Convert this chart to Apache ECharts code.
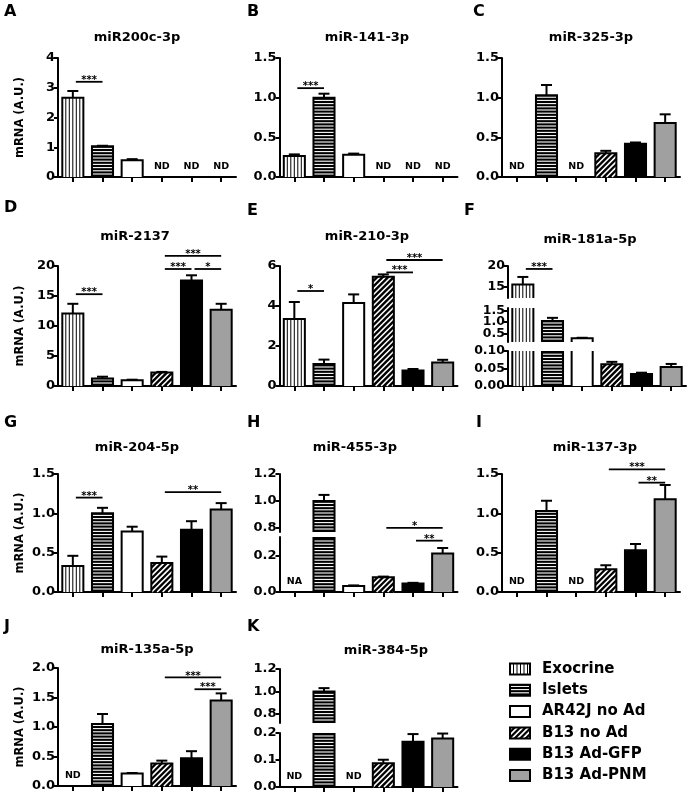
<!DOCTYPE html>
<html>
<head>
<meta charset="utf-8">
<script src="https://cdn.jsdelivr.net/npm/echarts@6/dist/echarts.min.js"></script>
<style>html,body{margin:0;padding:0;background:#fff}#c{width:690px;height:795px}</style>
</head>
<body>
<div id="c"></div>
<script>
// ---------------- DATA ----------------
const categories = ['Exocrine', 'Islets', 'AR42J no Ad', 'B13 no Ad', 'B13 Ad-GFP', 'B13 Ad-PNM'];

// A miR200c-3p
const miR200c_mean = [2.66, 1.03, 0.56, null, null, null];
const miR200c_err  = [0.23, 0.02, 0.04, 0, 0, 0];
const miR200c_notes = [[3, 'ND'], [4, 'ND'], [5, 'ND']];
const miR200c_sig = [[0, 1, 3.2, '***']];
const miR200c_ticks = [0, 1, 2, 3, 4];
// B miR-141-3p
const miR141_mean = [0.265, 1.0, 0.28, null, null, null];
const miR141_err  = [0.02, 0.05, 0.015, 0, 0, 0];
const miR141_notes = [[3, 'ND'], [4, 'ND'], [5, 'ND']];
const miR141_sig = [[0, 1, 1.12, '***']];
const miR141_ticks = [0, 0.5, 1.0, 1.5];
// C miR-325-3p
const miR325_mean = [null, 1.03, null, 0.30, 0.42, 0.68];
const miR325_err  = [0, 0.13, 0, 0.03, 0.015, 0.11];
const miR325_notes = [[0, 'ND'], [2, 'ND']];
const miR325_sig = [];
const miR325_ticks = [0, 0.5, 1.0, 1.5];
// D miR-2137
const miR2137_mean = [12.1, 1.25, 0.95, 2.25, 17.6, 12.7];
const miR2137_err  = [1.6, 0.3, 0.1, 0.1, 0.85, 1.0];
const miR2137_notes = [];
const miR2137_sig = [[0, 1, 15.3, '***'], [3, 4, 19.5, '***'], [4, 5, 19.5, '*'], [3, 5, 21.7, '***']];
const miR2137_ticks = [0, 5, 10, 15, 20];
// E miR-210-3p
const miR210_mean = [3.35, 1.1, 4.15, 5.46, 0.78, 1.17];
const miR210_err  = [0.85, 0.22, 0.43, 0.12, 0.07, 0.14];
const miR210_notes = [];
const miR210_sig = [[0, 1, 4.75, '*'], [3, 4, 5.68, '***'], [3, 5, 6.3, '***']];
const miR210_ticks = [0, 2, 4, 6];
// F miR-181a-5p (broken axis)
const miR181a_mean = [15.6, 1.05, 0.31, 0.062, 0.034, 0.054];
const miR181a_err  = [1.8, 0.13, 0.02, 0.007, 0.004, 0.009];
const miR181a_notes = [];
const miR181a_sig = [[0, 1, 19.3, '***']];
const miR181a_ticksTop = [15, 20];
const miR181a_ticksMid = [0.5, 1.0, 1.5];
const miR181a_ticksLow = [0, 0.05, 0.10];
// G miR-204-5p
const miR204_mean = [0.33, 1.0, 0.77, 0.37, 0.79, 1.05];
const miR204_err  = [0.13, 0.07, 0.06, 0.08, 0.11, 0.08];
const miR204_notes = [];
const miR204_sig = [[0, 1, 1.2, '***'], [3, 5, 1.27, '**']];
const miR204_ticks = [0, 0.5, 1.0, 1.5];
// H miR-455-3p (broken axis)
const miR455_mean = [null, 1.0, 0.033, 0.08, 0.047, 0.21];
const miR455_err  = [0, 0.045, 0.003, 0.004, 0.003, 0.03];
const miR455_notes = [[0, 'NA']];
const miR455_sig = [[3, 5, 0.35, '*'], [4, 5, 0.28, '**']];
const miR455_ticksTop = [0.8, 1.0, 1.2];
const miR455_ticksLow = [0, 0.2];
// I miR-137-3p
const miR137_mean = [null, 1.03, null, 0.29, 0.53, 1.18];
const miR137_err  = [0, 0.13, 0, 0.05, 0.08, 0.18];
const miR137_notes = [[0, 'ND'], [2, 'ND']];
const miR137_sig = [[3, 5, 1.56, '***'], [4, 5, 1.39, '**']];
const miR137_ticks = [0, 0.5, 1.0, 1.5];
// J miR-135a-5p
const miR135a_mean = [null, 1.05, 0.21, 0.38, 0.47, 1.45];
const miR135a_err  = [0, 0.17, 0.01, 0.05, 0.12, 0.12];
const miR135a_notes = [[0, 'ND']];
const miR135a_sig = [[3, 5, 1.84, '***'], [4, 5, 1.64, '***']];
const miR135a_ticks = [0, 0.5, 1.0, 1.5, 2.0];
// K miR-384-5p (broken axis)
const miR384_mean = [null, 1.0, null, 0.088, 0.168, 0.18];
const miR384_err  = [0, 0.03, 0, 0.013, 0.028, 0.018];
const miR384_notes = [[0, 'ND'], [2, 'ND']];
const miR384_sig = [];
const miR384_ticksTop = [0.8, 1.0, 1.2];
const miR384_ticksLow = [0, 0.1, 0.2];

// ---------------- LAYOUT ----------------
const FONT = "'DejaVu Sans', sans-serif";
const W = 178;
const panels = [
  {letter:'A', title:'miR200c-3p', mean:miR200c_mean, err:miR200c_err, notes:miR200c_notes, sig:miR200c_sig, left:58,
   segs:[{min:0, max:4, top:58, bottom:177, ticks:miR200c_ticks, dec:0}], tx:137, ty:38, lx:4, ly:12, yname:true},
  {letter:'B', title:'miR-141-3p', mean:miR141_mean, err:miR141_err, notes:miR141_notes, sig:miR141_sig, left:279.5,
   segs:[{min:0, max:1.5, top:58, bottom:177, ticks:miR141_ticks, dec:1}], tx:367, ty:38, lx:247, ly:12},
  {letter:'C', title:'miR-325-3p', mean:miR325_mean, err:miR325_err, notes:miR325_notes, sig:miR325_sig, left:502,
   segs:[{min:0, max:1.5, top:58, bottom:177, ticks:miR325_ticks, dec:1}], tx:591, ty:38, lx:473, ly:12},
  {letter:'D', title:'miR-2137', mean:miR2137_mean, err:miR2137_err, notes:miR2137_notes, sig:miR2137_sig, left:58,
   segs:[{min:0, max:20, top:266, bottom:386, ticks:miR2137_ticks, dec:0}], tx:135, ty:237, lx:4, ly:208, yname:true},
  {letter:'E', title:'miR-210-3p', mean:miR210_mean, err:miR210_err, notes:miR210_notes, sig:miR210_sig, left:279.5,
   segs:[{min:0, max:6, top:266, bottom:386, ticks:miR210_ticks, dec:0}], tx:367, ty:237, lx:247, ly:211},
  {letter:'F', title:'miR-181a-5p', mean:miR181a_mean, err:miR181a_err, notes:miR181a_notes, sig:miR181a_sig, left:508,
   segs:[{min:12.4, max:20, top:266, bottom:298, ticks:miR181a_ticksTop, dec:0, fs:12.5},
         {min:0.15, max:1.6, top:308, bottom:342, ticks:miR181a_ticksMid, dec:1, fs:12.5, split:true},
         {min:0, max:0.1, top:351, bottom:386, ticks:miR181a_ticksLow, dec:2, fs:12.5}], tx:590, ty:240, lx:464, ly:211},
  {letter:'G', title:'miR-204-5p', mean:miR204_mean, err:miR204_err, notes:miR204_notes, sig:miR204_sig, left:58,
   segs:[{min:0, max:1.5, top:474, bottom:592, ticks:miR204_ticks, dec:1}], tx:137, ty:448, lx:4, ly:423, yname:true},
  {letter:'H', title:'miR-455-3p', mean:miR455_mean, err:miR455_err, notes:miR455_notes, sig:miR455_sig, left:279.5,
   segs:[{min:0.77, max:1.2, top:474, bottom:532, ticks:miR455_ticksTop, dec:1},
         {min:0, max:0.3, top:537, bottom:592, ticks:miR455_ticksLow, dec:1}], tx:355, ty:448, lx:247, ly:423},
  {letter:'I', title:'miR-137-3p', mean:miR137_mean, err:miR137_err, notes:miR137_notes, sig:miR137_sig, left:502,
   segs:[{min:0, max:1.5, top:474, bottom:592, ticks:miR137_ticks, dec:1}], tx:595, ty:448, lx:476, ly:423},
  {letter:'J', title:'miR-135a-5p', mean:miR135a_mean, err:miR135a_err, notes:miR135a_notes, sig:miR135a_sig, left:58,
   segs:[{min:0, max:2, top:668, bottom:786, ticks:miR135a_ticks, dec:1}], tx:147, ty:650, lx:4, ly:627, yname:true},
  {letter:'K', title:'miR-384-5p', mean:miR384_mean, err:miR384_err, notes:miR384_notes, sig:miR384_sig, left:279.5,
   segs:[{min:0.72, max:1.2, top:669, bottom:723, ticks:miR384_ticksTop, dec:1},
         {min:0, max:0.2, top:733, bottom:787, ticks:miR384_ticksLow, dec:1}], tx:386, ty:651, lx:247, ly:627}
];

// ---------------- PATTERNS ----------------
const FILLS = ['#ffffff', '#000000', '#ffffff', '#000000', '#000000', '#a0a0a0'];
function ln(x1, y1, x2, y2, c, w) {
  return {type:'line', shape:{x1, y1, x2, y2}, style:{stroke:c, lineWidth:w}, silent:true};
}
function patternShapes(cat, x, y, w, h) {
  const out = [{type:'rect', shape:{x, y, width:w, height:h}, style:{fill:FILLS[cat]}, silent:true}];
  if (cat === 0) {
    for (let xx = x + 3.5; xx < x + w - 1.5; xx += 3.5) out.push(ln(xx, y, xx, y + h, '#000', 1));
  } else if (cat === 1) {
    for (let yy = y + h - 3; yy > y + 1; yy -= 3.2) out.push(ln(x, yy, x + w, yy, '#fff', 1.1));
  } else if (cat === 3) {
    const yb = y + h;
    for (let c = x + y + 2; c <= x + w + yb; c += 5.5) {
      const xa = Math.max(x, c - yb), xb = Math.min(x + w, c - y);
      if (xb > xa) out.push(ln(xa, c - xa, xb, c - xb, '#fff', 1.6));
    }
  }
  return out;
}

// ---------------- RENDERERS ----------------
function renderBar(params, api) {
  const cat = api.value(0), v = api.value(1), e = api.value(2);
  const cs = params.coordSys;
  const gTop = cs.y, gBot = cs.y + cs.height;
  const top = api.coord([cat, v]);
  const base = api.coord([cat, 0]);
  const cx = top[0];
  const bw = api.size([1, 0])[0] * 0.71;
  const children = [];
  const y1 = Math.max(top[1], gTop), y0 = Math.min(base[1], gBot);
  if (y0 > y1) {
    const x0 = cx - bw / 2;
    patternShapes(cat, x0, y1, bw, y0 - y1).forEach(s => children.push(s));
    if (top[1] >= gTop - 0.5) {
      children.push({type:'polyline', shape:{points:[[x0, y0], [x0, y1], [x0 + bw, y1], [x0 + bw, y0]]},
        style:{stroke:'#000', lineWidth:2, fill:null}, silent:true});
    } else {
      children.push(ln(x0, y0, x0, y1, '#000', 2));
      children.push(ln(x0 + bw, y0, x0 + bw, y1, '#000', 2));
    }
  }
  const et = api.coord([cat, v + e]);
  const ea = Math.max(et[1], gTop), eb = Math.min(top[1], gBot);
  if (eb > ea) children.push(ln(cx, ea, cx, eb, '#000', 2));
  if (et[1] >= gTop - 0.5 && et[1] <= gBot) children.push(ln(cx - 5.5, et[1], cx + 5.5, et[1], '#000', 2));
  return {type:'group', children};
}
function makeSigRenderer(sig) {
  return function (params, api) {
    const s = sig[api.value(3)];
    const a = api.coord([api.value(0), api.value(2)]);
    const b = api.coord([api.value(1), api.value(2)]);
    const x1 = a[0] + 3, x2 = b[0];
    return {type:'group', children:[
      ln(x1, a[1], x2, b[1], '#000', 1.8),
      {type:'text', silent:true, style:{text:s[3], x:(x1 + x2) / 2, y:a[1] - 1.5, fill:'#000',
        font:'bold 10px ' + FONT, align:'center', verticalAlign:'middle', textAlign:'center', textVerticalAlign:'middle'}}
    ]};
  };
}
function makeNoteRenderer(notes) {
  return function (params, api) {
    const n = notes[api.value(1)];
    const p = api.coord([api.value(0), 0]);
    const cs = params.coordSys;
    const yb = cs.y + cs.height;
    return {type:'text', silent:true, style:{text:n[1], x:p[0], y:yb - 10, fill:'#000',
      font:'bold 9.5px ' + FONT, align:'center', verticalAlign:'middle', textAlign:'center', textVerticalAlign:'middle'}};
  };
}

// ---------------- BUILD ----------------
const grid = [], xAxis = [], yAxis = [], series = [], graphic = [];
function labelCfg(s, values) {
  return {show:true, customValues:values, margin:3, color:'#000', fontSize:s.fs || 13,
    fontWeight:'bold', fontFamily:FONT, hideOverlap:false, showMinLabel:true, showMaxLabel:true,
    formatter:(v) => Number(v).toFixed(s.dec)};
}
panels.forEach(p => {
  const nSeg = p.segs.length;
  p.segs.forEach((s, si) => {
    const gi = grid.length;
    const isBottom = si === nSeg - 1;
    grid.push({left:p.left, top:s.top, width:W, height:s.bottom - s.top, containLabel:false, outerBoundsMode:'none'});
    xAxis.push({type:'category', gridIndex:gi, data:categories, boundaryGap:true,
      axisLine:{show:isBottom, onZero:false, lineStyle:{color:'#000', width:2}},
      axisTick:{show:isBottom, alignWithLabel:true, interval:0, length:5, lineStyle:{color:'#000', width:2}},
      axisLabel:{show:false, interval:0}, splitLine:{show:false}});
    const yi = yAxis.length;
    const mainLabels = s.split ? s.ticks.filter((t, k) => k % 2 === 0) : s.ticks;
    yAxis.push({type:'value', gridIndex:gi, min:s.min, max:s.max,
      axisLine:{show:true, onZero:false, lineStyle:{color:'#000', width:2}},
      axisTick:{show:true, length:4, customValues:s.ticks, lineStyle:{color:'#000', width:2}},
      axisLabel:labelCfg(s, mainLabels),
      splitLine:{show:false}});
    if (s.split) {
      yAxis.push({type:'value', gridIndex:gi, min:s.min, max:s.max, position:'left',
        axisLine:{show:false}, axisTick:{show:false},
        axisLabel:labelCfg(s, s.ticks.filter((t, k) => k % 2 === 1)),
        splitLine:{show:false}});
    }
    const barData = [];
    p.mean.forEach((m, i) => { if (m !== null) barData.push([i, m, p.err[i]]); });
    series.push({type:'custom', xAxisIndex:gi, yAxisIndex:yi, data:barData, renderItem:renderBar, silent:true, animation:false, z:2});
    const sigData = [];
    p.sig.forEach((b, k) => {
      const inThis = b[2] >= s.min && b[2] <= s.max;
      const inAny = p.segs.some(ss => b[2] >= ss.min && b[2] <= ss.max);
      if (inThis || (!inAny && isBottom)) sigData.push([b[0], b[1], b[2], k]);
    });
    if (sigData.length) series.push({type:'custom', xAxisIndex:gi, yAxisIndex:yi, data:sigData, renderItem:makeSigRenderer(p.sig), silent:true, animation:false, z:3});
    if (isBottom && p.notes.length) {
      const noteData = p.notes.map((n, k) => [n[0], k]);
      series.push({type:'custom', xAxisIndex:gi, yAxisIndex:yi, data:noteData, renderItem:makeNoteRenderer(p.notes), silent:true, animation:false, z:3});
    }
  });
  graphic.push({type:'text', x:p.tx, y:p.ty, silent:true,
    style:{text:p.title, x:0, y:0, fill:'#000', font:'bold 13px ' + FONT, align:'center', verticalAlign:'middle', textAlign:'center', textVerticalAlign:'middle'}});
  graphic.push({type:'text', x:p.lx, y:p.ly, silent:true,
    style:{text:p.letter, x:0, y:0, fill:'#000', font:'bold 16px ' + FONT, align:'left', verticalAlign:'middle', textAlign:'left', textVerticalAlign:'middle'}});
  if (p.yname) {
    const cy = (p.segs[0].top + p.segs[p.segs.length - 1].bottom) / 2;
    graphic.push({type:'text', x:20, y:cy, rotation:Math.PI / 2, silent:true,
      style:{text:'mRNA (A.U.)', x:0, y:0, fill:'#000', font:'bold 11.5px ' + FONT, align:'center', verticalAlign:'middle', textAlign:'center', textVerticalAlign:'middle'}});
  }
});

// legend
categories.forEach((name, i) => {
  const yc = 669 + i * 21.3;
  const sx = 510, sw = 20, sh = 11, sy = yc - sh / 2;
  const kids = patternShapes(i, sx, sy, sw, sh);
  kids.push({type:'rect', shape:{x:sx, y:sy, width:sw, height:sh}, style:{fill:null, stroke:'#000', lineWidth:2}, silent:true});
  graphic.push({type:'group', silent:true, children:kids});
  graphic.push({type:'text', x:542, y:yc, silent:true,
    style:{text:name, x:0, y:0, fill:'#000', font:'bold 15px ' + FONT, align:'left', verticalAlign:'middle', textAlign:'left', textVerticalAlign:'middle'}});
});

const chart = echarts.init(document.getElementById('c'), null, {renderer:'canvas', width:690, height:795});
chart.setOption({
  backgroundColor:'#fff',
  animation:false,
  grid, xAxis, yAxis, series, graphic
});
</script>
</body>
</html>
